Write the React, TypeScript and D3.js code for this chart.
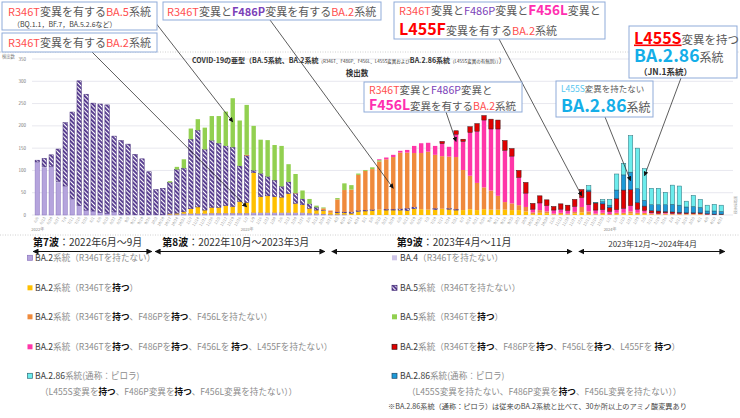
import * as d3 from "d3";

const FONT = '"Noto Sans CJK JP", "Noto Sans", sans-serif';

// weekly categories (week start, Monday)
const weeks2022 = "6/6 6/13 6/20 6/27 7/4 7/11 7/18 7/25 8/1 8/8 8/15 8/22 8/29 9/5 9/12 9/19 9/26 10/3 10/10 10/17 10/24 10/31 11/7 11/14 11/21 11/28 12/5 12/12 12/19 12/26".split(" ");
const weeks2023 = "1/2 1/9 1/16 1/23 1/30 2/6 2/13 2/20 2/27 3/6 3/13 3/20 3/27 4/3 4/10 4/17 4/24 5/1 5/8 5/15 5/22 5/29 6/5 6/12 6/19 6/26 7/3 7/10 7/17 7/24 7/31 8/7 8/14 8/21 8/28 9/4 9/11 9/18 9/25 10/2 10/9 10/16 10/23 10/30 11/6 11/13 11/20 11/27 12/4 12/11 12/18 12/25".split(" ");
const weeks2024 = "1/1 1/8 1/15 1/22 1/29 2/5 2/12 2/19 2/26 3/4 3/11 3/18 3/25 4/1 4/8 4/15 4/22".split(" ");
const weekLabels = [...weeks2022, ...weeks2023, ...weeks2024];
const yearLabels = ["2022年", "2023年", "2024年"];
const yearStarts = [0, weeks2022.length, weeks2022.length + weeks2023.length];

// detected counts per week, one array per lineage
const ba2NoR346T = [
  118, 106, 108, 73, 64, 35, 21, 11, 9, 6,
  4, 7, 2, 2, 1, 1, 1, 1, 1, 1,
  1, 3, 3, 3, 3, 4, 4, 4, 4, 4,
  4, 5, 5, 5, 5, 5, 5, 5, 5, 4,
  3, 2, 1, 1, 1, 0, 0, 0, 0, 0,
  0, 0, 0, 0, 0, 0, 0, 0, 0, 0,
  0, 0, 0, 0, 0, 0, 0, 0, 0, 0,
  0, 0, 0, 0, 0, 0, 0, 0, 0, 0,
  0, 0, 0, 0, 0, 0, 0, 0, 0, 0,
  0, 0, 0, 0, 0, 0, 0, 0, 0,
];
const ba4 = [
  1, 2, 1, 2, 1, 1, 0, 0, 0, 0,
  0, 0, 0, 0, 0, 0, 0, 0, 0, 0,
  0, 0, 0, 0, 0, 0, 0, 0, 0, 0,
  0, 0, 0, 0, 0, 0, 0, 0, 0, 0,
  0, 0, 0, 0, 0, 0, 0, 0, 0, 0,
  0, 0, 0, 0, 0, 0, 0, 0, 0, 0,
  0, 0, 0, 0, 0, 0, 0, 0, 0, 0,
  0, 0, 0, 0, 0, 0, 0, 0, 0, 0,
  0, 0, 0, 0, 0, 0, 0, 0, 0, 0,
  0, 0, 0, 0, 0, 0, 0, 0, 0,
];
const ba2R346T = [
  0, 0, 0, 0, 0, 0, 0, 0, 0, 0,
  0, 0, 0, 0, 0, 0, 0, 0, 0, 2,
  3, 4, 11, 15, 8, 13, 13, 17, 15, 26,
  24, 90, 36, 38, 36, 35, 43, 21, 18, 11,
  8, 8, 4, 4, 4, 4, 8, 9, 10, 12,
  11, 11, 11, 10, 14, 13, 12, 12, 14, 13,
  11, 11, 13, 11, 13, 12, 12, 12, 11, 11,
  8, 2, 5, 4, 1, 2, 1, 3, 6, 2,
  1, 2, 0, 2, 2, 3, 2, 2, 1, 1,
  1, 1, 1, 1, 1, 1, 0, 0, 0,
];
const ba5NoR346T = [
  4, 19, 26, 73, 142, 195, 280, 260, 242, 243,
  243, 170, 165, 157, 135, 125, 96, 56, 59, 70,
  98, 98, 156, 172, 136, 150, 144, 134, 133, 80,
  105, 5, 52, 43, 37, 24, 26, 22, 13, 10,
  6, 1, 0, 2, 2, 3, 2, 2, 2, 0,
  2, 2, 3, 5, 4, 0, 0, 3, 0, 2,
  2, 0, 0, 0, 0, 0, 0, 0, 0, 0,
  0, 0, 0, 0, 0, 0, 0, 0, 0, 0,
  0, 0, 0, 0, 0, 0, 0, 0, 0, 0,
  0, 0, 0, 0, 0, 0, 0, 0, 0,
];
const ba2F486P = [
  0, 0, 0, 0, 0, 0, 0, 0, 0, 0,
  0, 0, 0, 0, 0, 0, 0, 0, 0, 0,
  0, 0, 0, 0, 0, 0, 0, 0, 0, 0,
  2, 0, 0, 0, 0, 0, 0, 1, 0, 0,
  0, 4, 5, 28, 49, 50, 80, 88, 91, 108,
  112, 117, 126, 125, 121, 126, 130, 120, 118, 116,
  117, 90, 75, 61, 49, 43, 31, 17, 15, 11,
  10, 4, 6, 4, 2, 3, 2, 4, 12, 6,
  2, 3, 2, 3, 3, 5, 3, 3, 2, 1,
  2, 1, 1, 1, 1, 1, 1, 0, 1,
];
const ba5R346T = [
  0, 0, 0, 0, 0, 0, 0, 0, 0, 0,
  0, 0, 0, 0, 0, 0, 0, 0, 0, 3,
  6, 20, 24, 25, 49, 55, 61, 77, 110, 102,
  112, 100, 76, 82, 79, 91, 40, 43, 19, 11,
  4, 2, 0, 3, 15, 10, 3, 2, 4, 3,
  0, 0, 0, 0, 0, 0, 0, 0, 0, 0,
  0, 0, 0, 0, 0, 0, 0, 0, 0, 0,
  0, 0, 0, 0, 0, 0, 0, 0, 0, 0,
  0, 0, 0, 0, 0, 0, 0, 0, 0, 0,
  0, 0, 0, 0, 0, 0, 0, 0, 0,
];
const ba2F456L = [
  0, 0, 0, 0, 0, 0, 0, 0, 0, 0,
  0, 0, 0, 0, 0, 0, 0, 0, 0, 0,
  0, 0, 0, 0, 0, 0, 0, 0, 0, 0,
  0, 0, 0, 0, 0, 0, 0, 0, 0, 0,
  0, 0, 0, 0, 0, 0, 0, 0, 0, 2,
  4, 5, 4, 6, 16, 22, 20, 20, 28, 22,
  51, 64, 97, 116, 151, 138, 150, 116, 106, 62,
  31, 7, 16, 13, 8, 8, 7, 12, 21, 15,
  8, 7, 6, 7, 10, 13, 8, 5, 2, 2,
  2, 2, 2, 1, 1, 1, 1, 1, 0,
];
const ba2L455F = [
  0, 0, 0, 0, 0, 0, 0, 0, 0, 0,
  0, 0, 0, 0, 0, 0, 0, 0, 0, 0,
  0, 0, 0, 0, 0, 0, 0, 0, 0, 0,
  0, 0, 0, 0, 0, 0, 0, 0, 0, 0,
  0, 0, 0, 0, 0, 0, 0, 0, 0, 0,
  0, 0, 0, 0, 0, 0, 0, 0, 5, 0,
  8, 5, 13, 17, 10, 22, 20, 22, 17, 16,
  24, 13, 16, 13, 8, 12, 12, 16, 18, 30,
  16, 13, 9, 25, 41, 36, 15, 10, 5, 5,
  3, 3, 2, 2, 2, 2, 1, 1, 1,
];
const ba286NoL455S = [
  0, 0, 0, 0, 0, 0, 0, 0, 0, 0,
  0, 0, 0, 0, 0, 0, 0, 0, 0, 0,
  0, 0, 0, 0, 0, 0, 0, 0, 0, 0,
  0, 0, 0, 0, 0, 0, 0, 0, 0, 0,
  0, 0, 0, 0, 0, 0, 0, 0, 0, 0,
  0, 0, 0, 0, 0, 0, 0, 0, 0, 0,
  0, 0, 0, 0, 0, 0, 0, 0, 0, 0,
  0, 0, 0, 0, 0, 0, 0, 0, 0, 3,
  0, 5, 5, 19, 34, 39, 31, 13, 13, 14,
  15, 17, 16, 13, 14, 12, 6, 7, 6,
];
const ba286L455S = [
  0, 0, 0, 0, 0, 0, 0, 0, 0, 0,
  0, 0, 0, 0, 0, 0, 0, 0, 0, 0,
  0, 0, 0, 0, 0, 0, 0, 0, 0, 0,
  0, 0, 0, 0, 0, 0, 0, 0, 0, 0,
  0, 0, 0, 0, 0, 0, 0, 0, 0, 0,
  0, 0, 0, 0, 0, 0, 0, 0, 0, 0,
  0, 0, 0, 0, 0, 0, 0, 0, 0, 0,
  0, 0, 0, 0, 0, 0, 0, 0, 0, 10,
  1, 5, 13, 36, 26, 82, 91, 71, 37, 37,
  28, 43, 43, 13, 25, 18, 13, 15, 14,
];

// stacking order, bottom to top
const series = [
  { key: "ba2NoR346T", values: ba2NoR346T, fill: "#b5a4dd", stroke: "#8a74bd" },
  { key: "ba4", values: ba4, fill: "#cdc4e8", stroke: "none" },
  { key: "ba2R346T", values: ba2R346T, fill: "#ffc000", stroke: "none" },
  { key: "ba5NoR346T", values: ba5NoR346T, fill: "url(#hatch)", stroke: "#3f2675" },
  { key: "ba2F486P", values: ba2F486P, fill: "#ef8a3c", stroke: "none" },
  { key: "ba5R346T", values: ba5R346T, fill: "#92d050", stroke: "none" },
  { key: "ba2F456L", values: ba2F456L, fill: "#ff36a8", stroke: "none" },
  { key: "ba2L455F", values: ba2L455F, fill: "#e00000", stroke: "#3a1212" },
  { key: "ba286NoL455S", values: ba286NoL455S, fill: "#1d9ad8", stroke: "#1e4868" },
  { key: "ba286L455S", values: ba286L455S, fill: "#6cecec", stroke: "#2f6d78" },
];
const fillOf = Object.fromEntries(series.map((s) => [s.key, s]));

const rows = weekLabels.map((w, i) => {
  const r: Record<string, number | string> = { week: w };
  series.forEach((s) => (r[s.key] = s.values[i] ?? 0));
  return r;
});

const GRAY = "#595959";
const RED = "#ff4f4f";
const PURPLE = "#7b3fb8";
const MAGENTA = "#ff2fb0";
const STRONG = "#ff0000";
const CYAN = "#14aee8";

type Seg = { t: string; fill?: string; size?: number; bold?: boolean; under?: boolean };

function Rich({ x, y, size, fill, segs, anchor }: { x: number; y: number; size: number; fill: string; segs: Seg[]; anchor?: string }) {
  return (
    <text x={x} y={y} fontSize={size} fill={fill} textAnchor={anchor}>
      {segs.map((s, i) => (
        <tspan
          key={i}
          fill={s.fill}
          fontSize={s.size}
          fontWeight={s.bold ? 700 : undefined}
          textDecoration={s.under ? "underline" : undefined}
        >
          {s.t}
        </tspan>
      ))}
    </text>
  );
}

// callout boxes pointing at a bar segment
const callouts = [
  {
    box: [2, 2, 155, 28], from: [155, 22], target: { i: 28, v: 209 },
    lines: [
      { x: 8, y: 15.5, size: 11, segs: [{ t: "R346T", fill: RED }, { t: "変異を有する" }, { t: "BA.5", fill: RED }, { t: "系統" }] },
      { x: 13, y: 27, size: 7, segs: [{ t: "（BQ.1.1，BF.7，BA.5.2.6など）", fill: "#404040" }] },
    ],
  },
  {
    box: [2, 33, 155, 19], from: [92, 52], target: { i: 30, v: 18 },
    lines: [{ x: 8, y: 47, size: 11, segs: [{ t: "R346T", fill: RED }, { t: "変異を有する" }, { t: "BA.2", fill: RED }, { t: "系統" }] }],
  },
  {
    box: [163, 2, 218, 18], from: [270, 20], target: { i: 51, v: 60 },
    lines: [{ x: 167, y: 15.5, size: 11, segs: [{ t: "R346T", fill: RED }, { t: "変異と" }, { t: "F486P", fill: PURPLE, bold: true }, { t: "変異を有する" }, { t: "BA.2", fill: RED }, { t: "系統" }] }],
  },
  {
    box: [394, 2, 211, 37], from: [499, 39], target: { i: 78, v: 43 },
    lines: [
      { x: 399, y: 15, size: 11, segs: [{ t: "R346T", fill: RED }, { t: "変異と" }, { t: "F486P", fill: PURPLE }, { t: "変異と" }, { t: "F456L", fill: MAGENTA, bold: true, size: 13.5 }, { t: "変異と" }] },
      { x: 399, y: 34.5, size: 11, segs: [{ t: "L455F", fill: STRONG, bold: true, size: 16 }, { t: "変異を有する" }, { t: "BA.2", fill: RED }, { t: "系統" }] },
    ],
  },
  {
    box: [364, 82, 158, 30], from: [446, 112], target: { i: 60, v: 165 },
    lines: [
      { x: 369, y: 93.5, size: 10.5, segs: [{ t: "R346T", fill: RED }, { t: "変異と" }, { t: "F486P", fill: PURPLE }, { t: "変異と" }] },
      { x: 369, y: 109.5, size: 10.5, segs: [{ t: "F456L", fill: MAGENTA, bold: true, size: 14 }, { t: "変異を有する" }, { t: "BA.2", fill: RED }, { t: "系統" }] },
    ],
  },
  {
    box: [556, 81, 97, 36], from: [605, 117], target: { i: 85, v: 77 },
    lines: [
      { x: 561, y: 91.5, size: 8.5, segs: [{ t: "L455S", fill: "#55c6f0" }, { t: "変異を持たない" }] },
      { x: 561, y: 112, size: 12, segs: [{ t: "BA.2.86", fill: CYAN, bold: true, size: 17.5 }, { t: "系統" }] },
    ],
  },
  {
    box: [629, 26, 108, 52], from: [681, 78], target: { i: 87, v: 88 },
    lines: [
      { x: 634, y: 43.5, size: 11.5, segs: [{ t: "L455S", fill: STRONG, bold: true, size: 16, under: true }, { t: "変異を持つ" }] },
      { x: 634, y: 62, size: 12, segs: [{ t: "BA.2.86", fill: CYAN, bold: true, size: 17.5 }, { t: "系統" }] },
      { x: 639, y: 75, size: 8.5, segs: [{ t: "（JN.1系統）", fill: "#333", bold: true }] },
    ],
  },
];

// wave periods, in bar-index units
const waves = [
  { bold: "第7波", rest: "：2022年6月～9月", from: -0.6, to: 16.4, at: -0.6, size: 10 },
  { bold: "第8波", rest: "：2022年10月～2023年3月", from: 16.9, to: 41.2, at: 17.9, size: 10 },
  { bold: "第9波", rest: "：2023年4月～11月", from: 42.2, to: 76.6, at: 51.5, size: 10 },
  { bold: "", rest: "2023年12月～2024年4月", from: 77.6, to: 98.5, at: 81.8, size: 8 },
];

const dark = "#3a3a3a";
const B = (t: string): Seg => ({ t, fill: "#111", bold: true });
const legendLeft: { key: string; segs: Seg[]; sub?: Seg[] }[] = [
  { key: "ba2NoR346T", segs: [{ t: "BA.2", fill: dark }, { t: "系統（R346Tを持たない）" }] },
  { key: "ba2R346T", segs: [{ t: "BA.2", fill: dark }, { t: "系統（R346Tを" }, B("持つ"), { t: "）" }] },
  { key: "ba2F486P", segs: [{ t: "BA.2", fill: dark }, { t: "系統（R346Tを" }, B("持つ"), { t: "、F486Pを" }, B("持つ"), { t: "、F456Lを持たない）" }] },
  { key: "ba2F456L", segs: [{ t: "BA.2", fill: dark }, { t: "系統（R346Tを" }, B("持つ"), { t: "、F486Pを" }, B("持つ"), { t: "、F456Lを " }, B("持つ"), { t: "、L455Fを持たない）" }] },
  {
    key: "ba286L455S", segs: [{ t: "BA.2.86", fill: dark }, { t: "系統(通称：ピロラ)" }],
    sub: [{ t: "（L455S変異を" }, B("持つ"), { t: "、F486P変異を" }, B("持つ"), { t: "、F456L変異を持たない））" }],
  },
];
const legendRight: { key: string; segs: Seg[]; sub?: Seg[] }[] = [
  { key: "ba4", segs: [{ t: "BA.4", fill: dark }, { t: "（R346Tを持たない）" }] },
  { key: "ba5NoR346T", segs: [{ t: "BA.5", fill: dark }, { t: "系統（R346Tを持たない）" }] },
  { key: "ba5R346T", segs: [{ t: "BA.5", fill: dark }, { t: "系統（R346Tを" }, B("持つ"), { t: "）" }] },
  { key: "ba2L455F", segs: [{ t: "BA.2", fill: dark }, { t: "系統（R346Tを" }, B("持つ"), { t: "、F486Pを" }, B("持つ"), { t: "、F456Lを" }, B("持つ"), { t: "、L455Fを " }, B("持つ"), { t: "）" }] },
  {
    key: "ba286NoL455S", segs: [{ t: "BA.2.86", fill: dark }, { t: "系統(通称：ピロラ)" }],
    sub: [{ t: "（L455S変異を持たない、F486P変異を" }, B("持つ"), { t: "、F456L変異を持たない））" }],
  },
];
const legendRowsY = [258, 288, 317, 347, 376];

export default function App() {
  const W = 740;
  const H = 418;
  const n = weekLabels.length;
  const x = d3.scalePoint<number>().domain(d3.range(n)).range([37.3, 721.3]);
  const xi = d3.scaleLinear().domain([0, n - 1]).range([37.3, 721.3]);
  const y = d3.scaleLinear().domain([0, 350]).range([215, 59]);
  const barW = 4.4;

  const stacked = d3.stack<Record<string, number | string>>().keys(series.map((s) => s.key))(rows as any);

  const segTop = (i: number, v: number) => [xi(i), y(v)];

  return (
    <svg width={W} height={H} style={{ position: "absolute", left: 0, top: 0, background: "#fff" }} fontFamily={FONT}>
      <defs>
        <pattern id="hatch" patternUnits="userSpaceOnUse" width="3" height="3" patternTransform="rotate(-45)">
          <rect width="3" height="3" fill="#fff" />
          <rect width="1.9" height="3" fill="#52368c" />
        </pattern>
        <marker id="ah" viewBox="0 0 10 10" refX="9" refY="5" markerWidth="6" markerHeight="6" orient="auto-start-reverse">
          <path d="M0,0L10,5L0,10z" fill="#111" />
        </marker>
      </defs>
      <rect width={W} height={H} fill="#fff" />

      {/* chart area frame */}
      <line x1={0} x2={W} y1={52} y2={52} stroke="#d0d0d0" strokeDasharray="1 1.5" />
      <line x1={0} x2={W} y1={235} y2={235} stroke="#d0d0d0" strokeDasharray="1 1.5" />

      {/* grid and y axis */}
      {y.ticks(7).map((t) => (
        <g key={t}>
          <line x1={32} x2={733} y1={y(t)} y2={y(t)} stroke="#dcdce6" strokeWidth={0.7} />
          <text x={26} y={y(t) + 1.5} fontSize={4.5} fill="#777" textAnchor="end">{t}</text>
        </g>
      ))}
      <text x={2} y={58} fontSize={4.3} fill="#777">検出数</text>
      <text transform="translate(737,214) rotate(-90)" fontSize={3.6} fill="#999">検体採取週</text>

      {/* stacked bars */}
      {stacked.map((layer) => {
        const s = fillOf[layer.key];
        return (
          <g key={layer.key}>
            {layer.map((d, i) => {
              const h = y(d[0]) - y(d[1]);
              if (!(h > 0.01)) return null;
              return (
                <rect
                  key={i}
                  x={(x(i) as number) - barW / 2}
                  y={y(d[1])}
                  width={barW}
                  height={h}
                  fill={s.fill}
                  stroke={s.stroke}
                  strokeWidth={0.5}
                />
              );
            })}
          </g>
        );
      })}

      {/* x tick labels */}
      {weekLabels.map((w, i) => (
        <text key={i} transform={`translate(${(x(i) as number) + 1.5},218) rotate(-60)`} fontSize={3.8} fill="#9a9a9a" textAnchor="end">
          {w}
        </text>
      ))}
      {yearLabels.map((l, k) => (
        <text key={l} x={(x(yearStarts[k]) as number) - 6} y={231} fontSize={4} fill="#888">{l}</text>
      ))}

      {/* titles */}
      <Rich
        x={192} y={63} size={7} fill="#333"
        segs={[
          { t: "COVID-19の亜型（BA.5系統、BA.2系統", bold: true },
          { t: "（R346T、F486P、F456L、L455S変異および", size: 4.5 },
          { t: "BA.2.86系統", bold: true },
          { t: "（L455S変異の有無別））", size: 4.5 },
          { t: "）" },
        ]}
      />
      <text x={357} y={76} fontSize={7.5} fontWeight={700} fill="#333" textAnchor="middle">検出数</text>

      {/* callouts */}
      {callouts.map((c, k) => {
        const [tx, ty] = segTop(c.target.i, c.target.v);
        return (
          <g key={k}>
            <line x1={c.from[0]} y1={c.from[1]} x2={tx} y2={ty} stroke="#333" strokeWidth={0.8} markerEnd="url(#ah)" />
            <rect x={c.box[0]} y={c.box[1]} width={c.box[2]} height={c.box[3]} fill="#fff" stroke="#8fabd9" strokeWidth={1} />
            {c.lines.map((l, j) => (
              <Rich key={j} x={l.x} y={l.y} size={l.size} fill={GRAY} segs={l.segs as Seg[]} />
            ))}
          </g>
        );
      })}

      {/* wave periods */}
      {waves.map((w, k) => (
        <g key={k}>
          <Rich
            x={xi(w.at)} y={w.size > 9 ? 246 : 246.5} size={w.size} fill="#333"
            segs={w.bold ? [{ t: w.bold, fill: "#111", bold: true }, { t: w.rest }] : [{ t: w.rest }]}
          />
          <line x1={xi(w.from)} x2={xi(w.to)} y1={251.5} y2={251.5} stroke="#111" strokeWidth={1}
            markerStart="url(#ah)" markerEnd="url(#ah)" />
        </g>
      ))}

      {/* legend */}
      {[{ items: legendLeft, sx: 27.5, tx: 35, subx: 40 }, { items: legendRight, sx: 392, tx: 400, subx: 407 }].map((col, c) => (
        <g key={c}>
          {col.items.map((it, r) => {
            const s = fillOf[it.key];
            const yy = legendRowsY[r];
            return (
              <g key={it.key}>
                <rect x={col.sx} y={yy - 2.7} width={5} height={5} fill={s.fill} stroke={s.stroke === "none" ? "none" : s.stroke} strokeWidth={0.7} />
                <Rich x={col.tx} y={yy + 3} size={8.6} fill="#8c8c8c" segs={it.segs} />
                {it.sub && <Rich x={col.subx} y={yy + 19} size={8.6} fill="#8c8c8c" segs={it.sub} />}
              </g>
            );
          })}
        </g>
      ))}
      <text x={388} y={409} fontSize={7.2} fill="#444">
        ※BA.2.86系統（通称：ピロラ）は従来のBA.2系統と比べて、30か所以上のアミノ酸変異あり
      </text>
    </svg>
  );
}
